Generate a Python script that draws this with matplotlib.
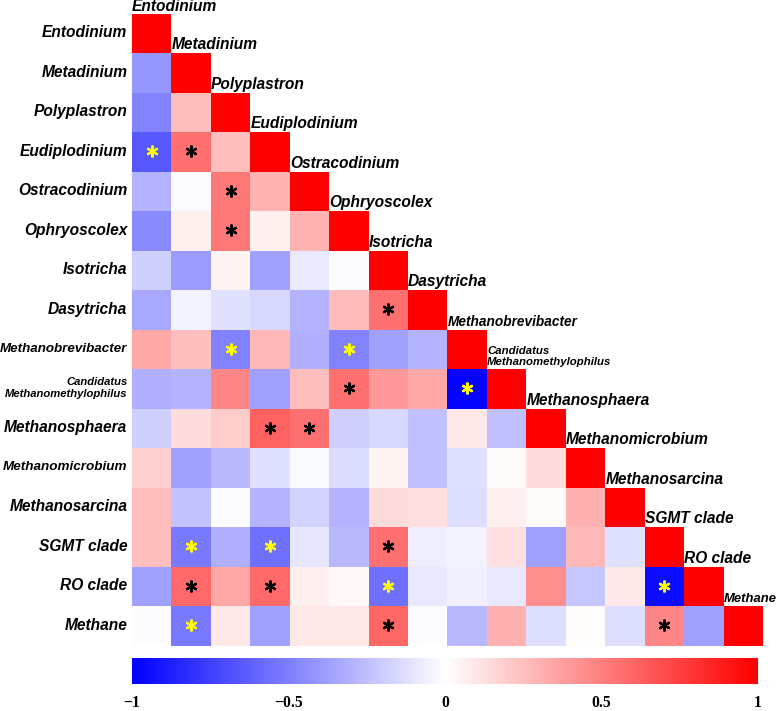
import numpy as np
import matplotlib
matplotlib.use("Agg")
import matplotlib.pyplot as plt

# --- Datos ---
nombres = ["Entodinium", "Metadinium", "Polyplastron", "Eudiplodinium",
           "Ostracodinium", "Ophryoscolex", "Isotricha", "Dasytricha",
           "Methanobrevibacter", "Candidatus\nMethanomethylophilus",
           "Methanosphaera", "Methanomicrobium", "Methanosarcina",
           "SGMT clade", "RO clade", "Methane"]

# triangulo inferior de la matriz de correlacion (sin la diagonal)
correlaciones = [
    [],
    [-0.41],
    [-0.49, 0.25],
    [-0.65, 0.56, 0.25],
    [-0.29, -0.02, 0.53, 0.29],
    [-0.46, 0.06, 0.53, 0.06, 0.29],
    [-0.18, -0.39, 0.04, -0.37, -0.08, -0.01],
    [-0.34, -0.04, -0.12, -0.15, -0.29, 0.27, 0.56],
    [0.34, 0.25, -0.49, 0.28, -0.31, -0.49, -0.37, -0.29],
    [-0.31, -0.29, 0.47, -0.37, 0.25, 0.56, 0.40, 0.34, -0.98],
    [-0.18, 0.14, 0.20, 0.62, 0.56, -0.18, -0.15, -0.25, 0.09, -0.25],
    [0.18, -0.37, -0.28, -0.12, -0.03, -0.14, 0.04, -0.25, -0.12, 0.02, 0.14],
    [0.26, -0.23, -0.01, -0.29, -0.17, -0.29, 0.14, 0.12, -0.13, 0.06, 0.02, 0.31],
    [0.25, -0.52, -0.31, -0.56, -0.10, -0.28, 0.56, -0.07, -0.04, 0.12, -0.37, 0.28, -0.12],
    [-0.37, 0.58, 0.34, 0.58, 0.06, 0.03, -0.56, -0.09, -0.06, -0.09, 0.44, -0.22, 0.09, -0.95],
    [-0.01, -0.52, 0.09, -0.37, 0.09, 0.09, 0.60, -0.01, -0.28, 0.31, -0.13, 0.01, -0.13, 0.47, -0.37],
]

# columnas con correlacion significativa en cada fila
significativas = [[], [], [], [0, 1], [2], [2], [], [6], [2, 5], [5, 8],
                  [3, 4], [], [], [1, 3, 6], [1, 3, 6, 13], [1, 6, 13]]

barra_ticks = [-1, -0.5, 0, 0.5, 1]
barra_etiquetas = ["\u22121", "\u22120.5", "0", "0.5", "1"]

# --- Matriz ---
n = len(nombres)
matriz = np.full((n, n), np.nan)
for i, fila in enumerate(correlaciones):
    for j, v in enumerate(fila):
        matriz[i, j] = v
    matriz[i, i] = 1.0
matriz = np.ma.masked_invalid(matriz)

# --- Grafico ---
W, H = 778, 711
fig = plt.figure(figsize=(W / 100, H / 100), dpi=100)
ax = fig.add_axes([132 / W, 1 - 646 / H, (763 - 132) / W, (646 - 14) / H])
im = ax.imshow(matriz, cmap="bwr", vmin=-1, vmax=1, aspect="auto",
               interpolation="nearest")
ax.set_xlim(-0.5, n - 0.5)
ax.set_ylim(n - 0.5, -0.5)
ax.axis("off")

fuente = dict(family="Liberation Sans", weight="bold", style="italic")
tam_base = 11.2
tam_fila = {8: 9.6, 9: 8.1, 11: 9.7}
tam_diag = {8: 9.8, 9: 8.2, 15: 9.4}

for i, nombre in enumerate(nombres):
    # etiqueta a la izquierda
    ax.text(-0.62, i - 0.03, nombre, ha="right", va="center",
            fontsize=tam_fila.get(i, tam_base), clip_on=False,
            linespacing=1.15, **fuente)
    # etiqueta sobre la diagonal (la primera queda pegada al borde)
    desfase = 0.57 if i == 0 else 0.61
    ax.text(i - 0.5, i - desfase, nombre, ha="left", va="baseline",
            fontsize=tam_diag.get(i, tam_base), clip_on=False,
            linespacing=1.15, **fuente)

# asteriscos de significancia
for i, cols in enumerate(significativas):
    for j in cols:
        color = "#ffff00" if matriz[i, j] < 0 else "black"
        ax.plot(j, i - 0.03, marker=(6, 2, 0), markersize=8.5,
                markeredgewidth=1.6, color=color, linestyle="none")

# --- Barra de color ---
cax = fig.add_axes([132 / W, 1 - 684 / H, (758 - 132) / W, 26 / H])
cb = fig.colorbar(im, cax=cax, orientation="horizontal")
cb.outline.set_visible(False)
cb.set_ticks(barra_ticks)
cb.set_ticklabels(barra_etiquetas)
cax.tick_params(length=0, pad=8)
for t in cax.get_xticklabels():
    t.set_fontfamily("Liberation Serif")
    t.set_fontweight("bold")
    t.set_fontsize(11.3)

fig.savefig("out.png", dpi=100)
